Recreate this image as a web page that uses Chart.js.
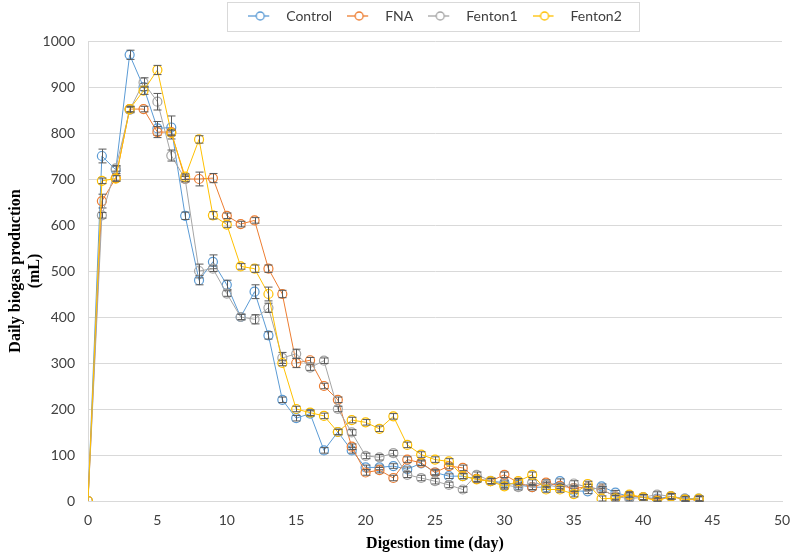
<!DOCTYPE html>
<html>
<head>
<meta charset="utf-8">
<script src="https://cdn.jsdelivr.net/npm/chart.js@4.4.1/dist/chart.umd.min.js"></script>
<style>
  html, body { margin: 0; padding: 0; background: #fff; }
  #wrap { width: 797px; height: 556px; position: relative; }
</style>
</head>
<body>
<div id="wrap"><canvas id="chart"></canvas></div>
<script>
// digestion days
const days = [0, 1, 2, 3, 4, 5, 6, 7, 8, 9, 10, 11, 12, 13, 14, 15, 16, 17, 18, 19, 20, 21, 22,
  23, 24, 25, 26, 27, 28, 29, 30, 31, 32, 33, 34, 35, 36, 37, 38, 39, 40, 41, 42, 43, 44];

// daily biogas production (mL)
const control = [0, 750, 720, 970, 900, 810, 812, 620, 480, 520, 470, 400, 455, 360, 220, 180, 190, 110, 150, 110, 73, 73, 76,
  69, 82, 62, 54, 54, 48, 43, 40, 35, 30, 30, 43, 22, 21, 32, 18, 10, 8, 5, 10, 5, 5];
const fna = [0, 652, 702, 852, 852, 802, 802, 700, 700, 702, 620, 602, 610, 505, 450, 300, 306, 250, 220, 118, 62, 67, 50,
  90, 83, 62, 76, 72, 48, 43, 57, 40, 30, 40, 33, 28, 30, 25, 10, 12, 8, 2, 10, 3, 3];
const fenton1 = [0, 621, 723, 850, 910, 868, 751, 700, 500, 505, 451, 400, 395, 420, 311, 320, 290, 305, 200, 149, 98, 95, 104,
  57, 50, 43, 35, 25, 57, 44, 35, 30, 40, 35, 30, 38, 30, 25, 10, 5, 8, 14, 10, 5, 4];
const fenton2 = [0, 696, 701, 852, 892, 937, 800, 705, 786, 621, 601, 510, 505, 450, 300, 200, 192, 185, 150, 176, 171, 157, 184,
  122, 101, 90, 86, 54, 47, 43, 32, 43, 57, 25, 25, 15, 37, 5, 6, 14, 8, 0, 10, 3, 5];

// error bar half-widths (mL)
const controlErr = [0, 15, 8, 10, 8, 15, 25, 8, 10, 15, 10, 6, 15, 8, 6, 6, 6, 6, 6, 6, 5, 5, 5,
  5, 5, 5, 5, 5, 5, 5, 5, 5, 5, 5, 5, 5, 5, 5, 5, 5, 5, 5, 5, 5, 5];
const fnaErr = [0, 15, 6, 6, 6, 12, 6, 6, 15, 10, 6, 6, 6, 8, 8, 10, 6, 6, 6, 6, 6, 6, 6,
  6, 6, 6, 6, 6, 6, 6, 6, 6, 6, 6, 6, 6, 6, 6, 6, 6, 6, 6, 6, 6, 6];
const fenton1Err = [0, 6, 6, 6, 10, 18, 12, 6, 15, 6, 6, 6, 10, 10, 12, 10, 6, 6, 6, 6, 6, 6, 6,
  6, 6, 6, 6, 6, 6, 6, 6, 6, 6, 6, 6, 6, 6, 6, 6, 6, 6, 6, 6, 6, 6];
const fenton2Err = [0, 6, 6, 6, 8, 10, 6, 6, 8, 8, 6, 6, 8, 15, 6, 6, 6, 6, 6, 6, 6, 6, 6,
  6, 6, 6, 6, 6, 6, 6, 6, 6, 6, 6, 6, 6, 6, 6, 6, 6, 6, 6, 6, 6, 6];

const seriesNames = ['Control', 'FNA', 'Fenton1', 'Fenton2'];
const seriesColors = ['#5B9BD5', '#ED7D31', '#A5A5A5', '#FFC000'];
const seriesValues = [control, fna, fenton1, fenton2];
const seriesErrors = [controlErr, fnaErr, fenton1Err, fenton2Err];

const xTicks = [0, 5, 10, 15, 20, 25, 30, 35, 40, 45, 50];
const yTicks = [0, 100, 200, 300, 400, 500, 600, 700, 800, 900, 1000];

const tickFont = { family: 'Lato', size: 14 };
const titleFont = { family: 'Liberation Serif', size: 16, weight: 'bold', lineHeight: 1.2 };

// little "line + open circle" picture for the legend entries
function legendIcon(color) {
  const c = document.createElement('canvas');
  c.width = 31; c.height = 12;
  const g = c.getContext('2d');
  g.strokeStyle = color;
  g.lineWidth = 1.3;
  g.beginPath(); g.moveTo(0, 6); g.lineTo(21, 6); g.stroke();
  g.beginPath(); g.arc(12, 6, 4, 0, Math.PI * 2);
  g.fillStyle = '#fff'; g.fill(); g.stroke();
  return c;
}

// error bars, drawn with each series through its own scales
const errorBars = {
  id: 'errorBars',
  afterDatasetDraw(chart, args) {
    const errs = chart.data.datasets[args.index].errors;
    if (!errs) return;
    const { ctx, scales: { x, y } } = chart;
    const vals = chart.data.datasets[args.index].data;
    ctx.save();
    ctx.strokeStyle = '#595959';
    ctx.lineWidth = 1;
    vals.forEach((p, i) => {
      const e = errs[i];
      if (!e) return;
      const px = Math.round(x.getPixelForValue(p.x)) + 0.5;
      const top = y.getPixelForValue(p.y + e);
      const bot = y.getPixelForValue(Math.max(0, p.y - e));
      ctx.beginPath();
      ctx.moveTo(px, top); ctx.lineTo(px, bot);
      ctx.moveTo(px - 4, top); ctx.lineTo(px + 4, top);
      ctx.moveTo(px - 4, bot); ctx.lineTo(px + 4, bot);
      ctx.stroke();
    });
    ctx.restore();
  }
};

// centre the legend over the plot and draw its frame
const legendFrame = {
  id: 'legendFrame',
  afterLayout(chart) {
    const lg = chart.legend;
    const dx = 435 - (lg.left + lg.right) / 2;
    lg.left += dx; lg.right += dx;
    lg.top -= 8; lg.bottom -= 8;
  },
  afterDraw(chart) {
    const hb = chart.legend.legendHitBoxes;
    if (!hb || !hb.length) return;
    const l = Math.min(...hb.map(h => h.left)) - 21;
    const r = Math.max(...hb.map(h => h.left + h.width)) + 17;
    const ctx = chart.ctx;
    ctx.save();
    ctx.strokeStyle = '#d9d9d9';
    ctx.lineWidth = 1;
    ctx.strokeRect(Math.round(l) + 0.5, 2.5, Math.round(r - l), 29);
    ctx.restore();
  }
};

const datasets = seriesNames.map((name, k) => ({
  label: name,
  data: days.map((d, i) => ({ x: d, y: seriesValues[k][i] })),
  errors: seriesErrors[k],
  borderColor: seriesColors[k],
  backgroundColor: 'rgba(255,255,255,0)',
  borderWidth: 1,
  pointRadius: 4.5,
  pointBorderWidth: 1.2,
  pointBorderColor: seriesColors[k],
  pointBackgroundColor: 'rgba(255,255,255,0)',
  tension: 0,
  order: 4 - k
}));

new Chart(document.getElementById('chart'), {
  type: 'line',
  data: { datasets },
  options: {
    responsive: true,
    maintainAspectRatio: false,
    animation: false,
    layout: { padding: { top: 2, right: 15, bottom: 0, left: 0 } },
    plugins: {
      legend: {
        position: 'top',
        maxHeight: 40,
        labels: {
          usePointStyle: true,
          pointStyleWidth: 31,
          padding: 15,
          color: '#404040',
          font: tickFont,
          generateLabels(chart) {
            return chart.data.datasets.map((ds, i) => ({
              text: ds.label,
              pointStyle: legendIcon(ds.borderColor),
              fillStyle: ds.borderColor,
              strokeStyle: ds.borderColor,
              lineWidth: 0,
              fontColor: '#404040',
              hidden: !chart.isDatasetVisible(i),
              datasetIndex: i
            }));
          }
        }
      },
      tooltip: { enabled: false }
    },
    scales: {
      x: {
        type: 'linear',
        min: xTicks[0],
        max: xTicks[xTicks.length - 1],
        afterFit(s) { s.height = 55; s.paddingLeft = 0; s.paddingRight = 0; },
        afterBuildTicks(s) { s.ticks = xTicks.map(v => ({ value: v })); },
        grid: { display: false, drawTicks: false },
        border: { display: true, color: '#d9d9d9', width: 1 },
        ticks: { font: tickFont, color: '#404040', padding: 11, maxRotation: 0, callback: v => String(v) },
        title: {
          display: true,
          text: 'Digestion time (day)',
          font: titleFont,
          color: '#000',
          padding: { top: 0, bottom: 3 }
        }
      },
      y: {
        min: yTicks[0],
        max: yTicks[yTicks.length - 1],
        afterFit(s) { s.width = 88; },
        afterBuildTicks(s) { s.ticks = yTicks.map(v => ({ value: v })); },
        grid: { color: '#d9d9d9', lineWidth: 1, drawTicks: false },
        border: { display: true, color: '#d9d9d9', width: 1 },
        ticks: { font: tickFont, color: '#404040', padding: 13, callback: v => String(v) },
        title: {
          display: true,
          text: ['Daily biogas production', '(mL)'],
          font: titleFont,
          color: '#000',
          padding: { top: 6, bottom: 0 }
        }
      }
    }
  },
  plugins: [errorBars, legendFrame]
});
</script>
</body>
</html>
